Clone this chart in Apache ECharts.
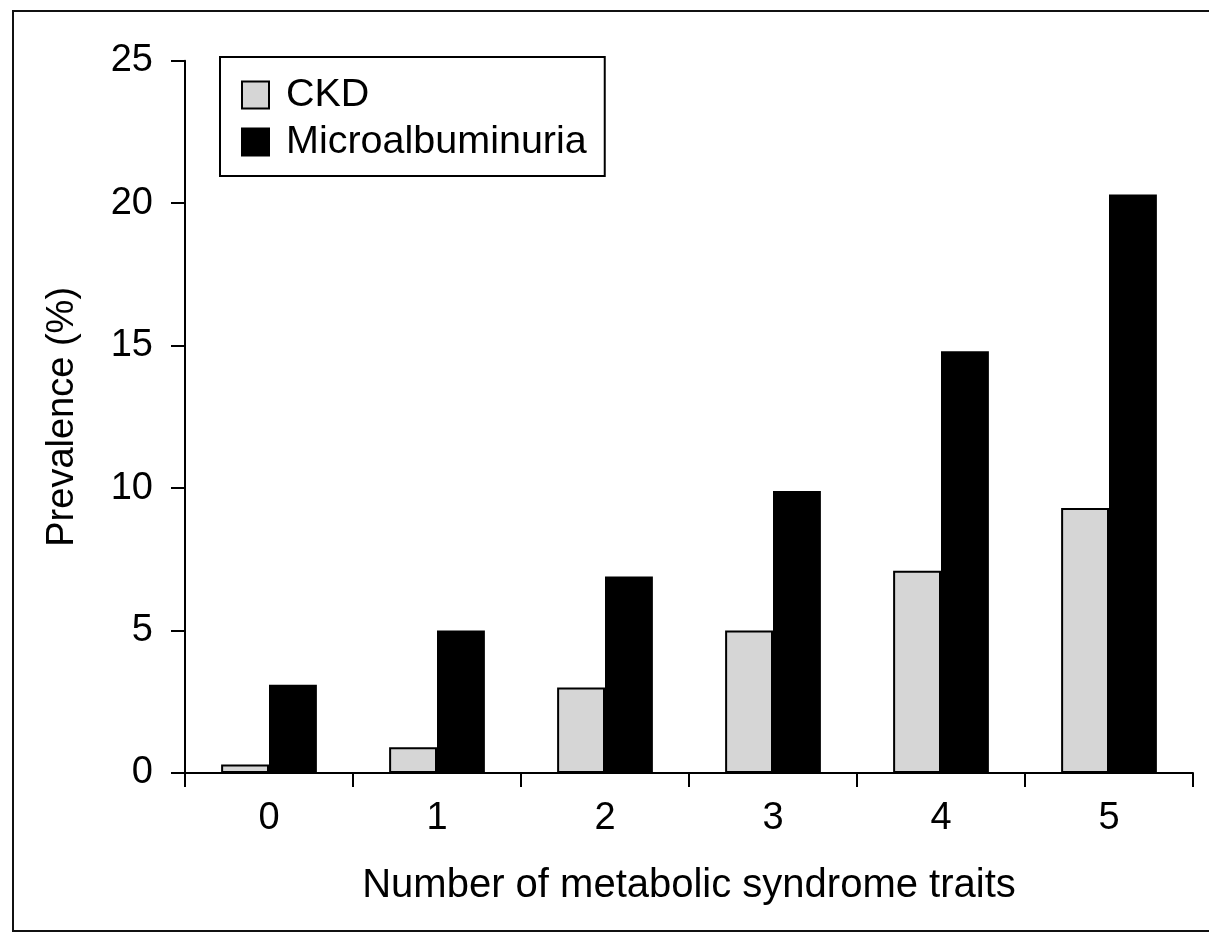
<!DOCTYPE html>
<html>
<head>
<meta charset="utf-8">
<script src="https://cdn.jsdelivr.net/npm/echarts@6/dist/echarts.min.js"></script>
<style>
  html, body { margin: 0; padding: 0; background: #fff; }
  #chart { width: 1209px; height: 933px; }
</style>
</head>
<body>
<div id="chart"></div>
<script>
// Number of metabolic syndrome traits
const categories = ['0', '1', '2', '3', '4', '5'];
// Prevalence (%) per group
const ckdValues = [0.3, 0.9, 3.0, 5.0, 7.1, 9.3];
const microValues = [3.1, 5.0, 6.9, 9.9, 14.8, 20.3];
const yTicks = [0, 5, 10, 15, 20, 25];

const FONT = 'Liberation Sans, Arial, Helvetica, sans-serif';

const chart = echarts.init(document.getElementById('chart'), null, { renderer: 'canvas' });

chart.setOption({
  backgroundColor: '#ffffff',
  animation: false,
  textStyle: { fontFamily: FONT, color: '#000' },
  graphic: [
    {
      type: 'rect',
      shape: { x: 13, y: 11, width: 1210, height: 920 },
      style: { fill: 'none', stroke: '#111', lineWidth: 2 },
      silent: true
    }
  ],
  legend: {
    orient: 'vertical',
    left: 220,
    top: 57,
    padding: [18, 18, 14, 21],
    borderColor: '#000',
    borderWidth: 2,
    icon: 'rect',
    itemWidth: 27,
    itemHeight: 27,
    itemGap: 7,
    textStyle: { fontFamily: FONT, fontSize: 39.5, lineHeight: 28, color: '#000', padding: [0, 0, 0, 12] },
    data: ['CKD', 'Microalbuminuria']
  },
  grid: {
    left: 185,
    right: 16,
    top: 60.7,
    bottom: 160,
    containLabel: false
  },
  xAxis: {
    type: 'category',
    data: categories,
    name: 'Number of metabolic syndrome traits',
    nameLocation: 'middle',
    nameGap: 93,
    nameTextStyle: { fontFamily: FONT, fontSize: 40, color: '#000' },
    axisLine: { lineStyle: { color: '#000', width: 2 } },
    axisTick: { show: true, length: 14, alignWithLabel: false, lineStyle: { color: '#000', width: 2 } },
    axisLabel: { fontFamily: FONT, fontSize: 38, color: '#000', margin: 27 },
    splitLine: { show: false }
  },
  yAxis: {
    type: 'value',
    min: yTicks[0],
    max: yTicks[yTicks.length - 1],
    interval: 5,
    name: 'Prevalence (%)',
    nameLocation: 'middle',
    nameGap: 103,
    nameRotate: 90,
    nameTextStyle: { fontFamily: FONT, fontSize: 38, color: '#000' },
    axisLine: { show: true, lineStyle: { color: '#000', width: 2 } },
    axisTick: { show: true, length: 14, lineStyle: { color: '#000', width: 2 } },
    axisLabel: { fontFamily: FONT, fontSize: 38, color: '#000', margin: 32 },
    splitLine: { show: false }
  },
  series: [
    {
      name: 'CKD',
      type: 'bar',
      data: ckdValues,
      barGap: '0%',
      barCategoryGap: '43%',
      itemStyle: { color: '#d6d6d6', borderColor: '#000', borderWidth: 2 }
    },
    {
      name: 'Microalbuminuria',
      type: 'bar',
      data: microValues,
      barGap: '0%',
      barCategoryGap: '43%',
      itemStyle: { color: '#000', borderColor: '#000', borderWidth: 2 }
    }
  ]
});
</script>
</body>
</html>
